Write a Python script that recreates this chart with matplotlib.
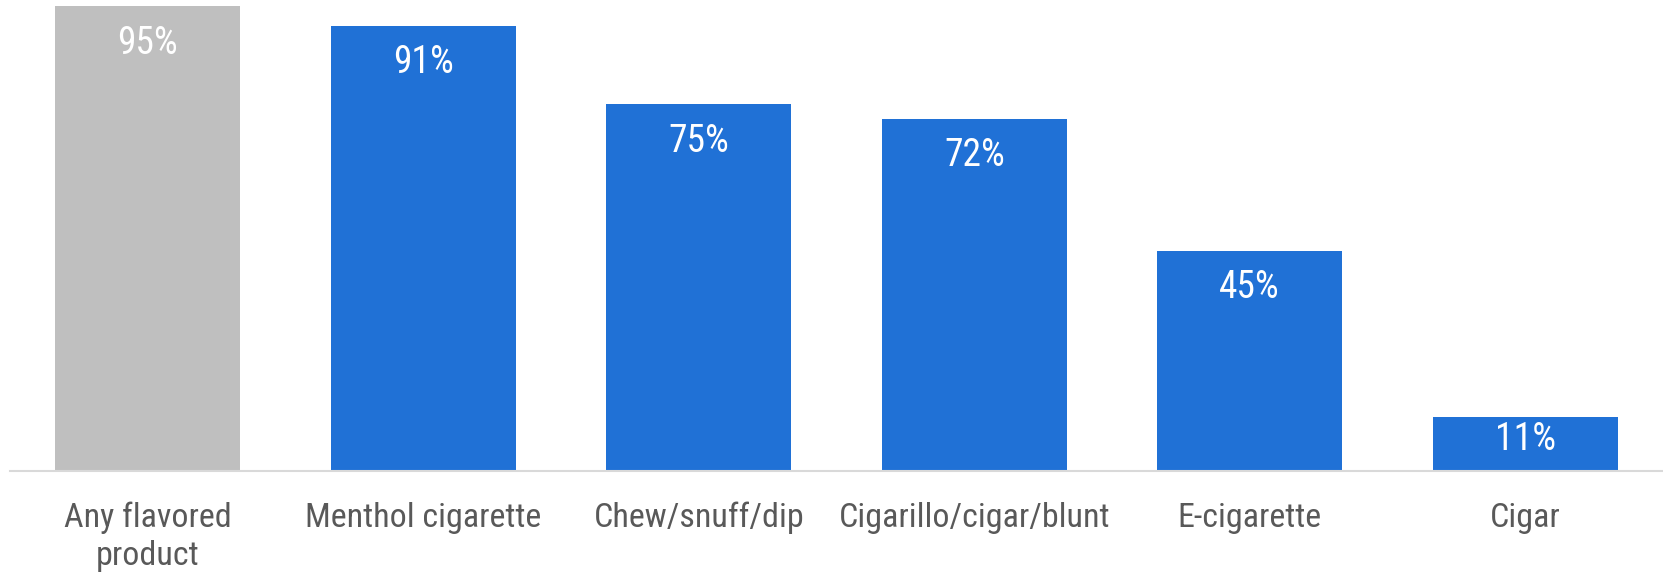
import matplotlib
matplotlib.use("Agg")
from matplotlib import pyplot as plt

# flavored product use, percent
categories = ["Any flavored\nproduct", "Menthol cigarette", "Chew/snuff/dip",
              "Cigarillo/cigar/blunt", "E-cigarette", "Cigar"]
values = [95, 91, 75, 72, 45, 11]
colors = ["#BFBFBF", "#2071D6", "#2071D6", "#2071D6", "#2071D6", "#2071D6"]

plt.rcParams['font.family'] = ['Roboto Condensed', 'Liberation Sans', 'DejaVu Sans']

fig = plt.figure(figsize=(16.63, 5.78), dpi=100)
ax = fig.add_axes([10 / 1663, 107 / 578, 1653 / 1663, 471 / 578])

x = range(len(categories))
ax.bar(x, values, width=0.67, color=colors, zorder=2)
ax.set_xlim(-0.5, 5.5)
ax.set_ylim(0, 96.3)

# value labels just inside the top of each bar
px_per_unit = 471 / 96.3
for i, v in enumerate(values):
    off = min(37, v * px_per_unit * 0.42)
    ax.annotate(f"{v}%", xy=(i, v), xytext=(0, -off), textcoords="offset pixels",
                ha="center", va="center", color="white", fontsize=27)

ax.set_xticks(list(x))
ax.set_xticklabels(categories, fontsize=24.5, color="#595959", linespacing=1.25)
ax.tick_params(axis="x", length=0, pad=22)
ax.set_yticks([])

for side in ["top", "right", "left"]:
    ax.spines[side].set_visible(False)
ax.spines["bottom"].set_color("#D9D9D9")
ax.spines["bottom"].set_linewidth(1.5)

fig.savefig("out.png", dpi=100, facecolor="white")
